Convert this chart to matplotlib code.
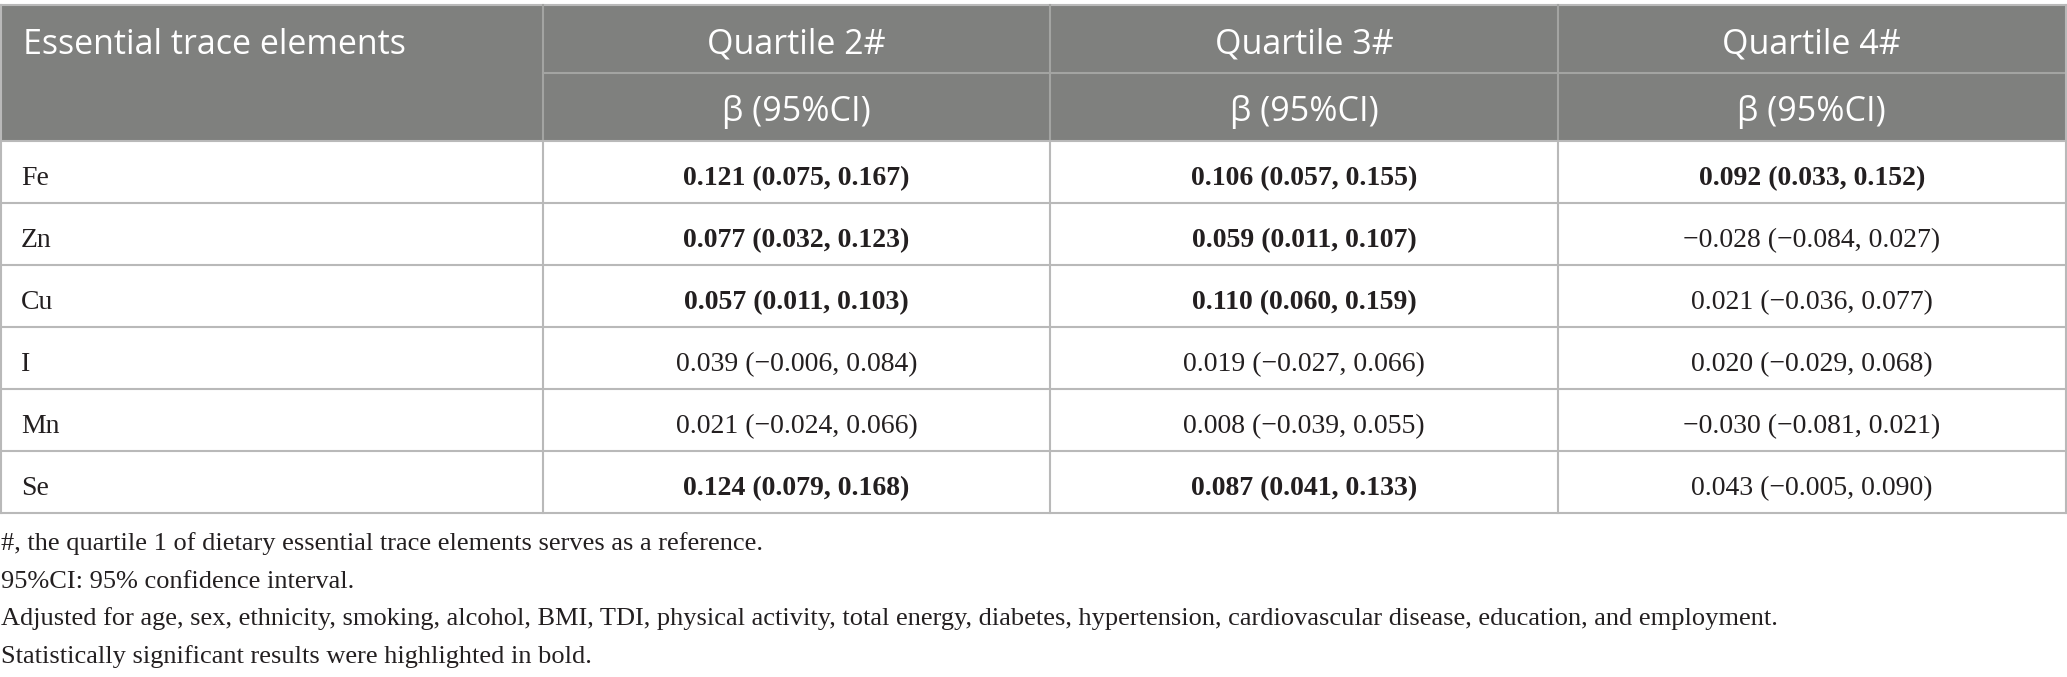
import matplotlib.pyplot as plt
from matplotlib.patches import Rectangle

# --------------------------------
# TABLE DATA: beta (95% CI) by quartile
# --------------------------------

elements = ["Fe", "Zn", "Cu", "I", "Mn", "Se"]
quartiles = ["Quartile 2#", "Quartile 3#", "Quartile 4#"]

q2_beta = [0.121, 0.077, 0.057, 0.039, 0.021, 0.124]
q2_low = [0.075, 0.032, 0.011, -0.006, -0.024, 0.079]
q2_high = [0.167, 0.123, 0.103, 0.084, 0.066, 0.168]
q2_sig = [True, True, True, False, False, True]

q3_beta = [0.106, 0.059, 0.110, 0.019, 0.008, 0.087]
q3_low = [0.057, 0.011, 0.060, -0.027, -0.039, 0.041]
q3_high = [0.155, 0.107, 0.159, 0.066, 0.055, 0.133]
q3_sig = [True, True, True, False, False, True]

q4_beta = [0.092, -0.028, 0.021, 0.020, -0.030, 0.043]
q4_low = [0.033, -0.084, -0.036, -0.029, -0.081, -0.005]
q4_high = [0.152, 0.027, 0.077, 0.068, 0.021, 0.090]
q4_sig = [True, False, False, False, False, False]

footnotes = [
    "#, the quartile 1 of dietary essential trace elements serves as a reference.",
    "95%CI: 95% confidence interval.",
    "Adjusted for age, sex, ethnicity, smoking, alcohol, BMI, TDI, physical activity, total energy, "
    "diabetes, hypertension, cardiovascular disease, education, and employment.",
    "Statistically significant results were highlighted in bold.",
]


def fmt(v):
    return f"{v:.3f}".replace("-", "\u2212")


columns = [
    (q2_beta, q2_low, q2_high, q2_sig),
    (q3_beta, q3_low, q3_high, q3_sig),
    (q4_beta, q4_low, q4_high, q4_sig),
]

# --------------------------------
# LAYOUT (pixel units)
# --------------------------------

W, H = 2067, 677
col_edges = [0.5, 543, 1050, 1558, 2065.5]
top = 4.5
sub_line = 73
head_bottom = 141
row_h = 62
table_bottom = head_bottom + row_h * len(elements)

header_bg = "#7f807e"
line_col = "#b9b9b9"
head_line = "#a3a4a2"
text_col = "#231f20"
serif = "Liberation Serif"
sans = "Open Sans"

fig = plt.figure(figsize=(W / 100, H / 100), dpi=100)
ax = fig.add_axes([0, 0, 1, 1])
ax.set_xlim(0, W)
ax.set_ylim(H, 0)
ax.axis("off")

# header background
ax.add_patch(Rectangle((col_edges[0], top), col_edges[-1] - col_edges[0],
                       head_bottom - top, facecolor=header_bg, edgecolor="none"))

# header lines
ax.plot([col_edges[0], col_edges[-1]], [top, top], color=line_col, lw=1.5)
ax.plot([col_edges[1], col_edges[-1]], [sub_line, sub_line], color=head_line, lw=1.5)
for x in col_edges[1:-1]:
    ax.plot([x, x], [top, head_bottom], color=head_line, lw=1.5)

# body grid
for i in range(len(elements) + 1):
    y = head_bottom + i * row_h
    ax.plot([col_edges[0], col_edges[-1]], [y, y], color=line_col, lw=1.5)
for x in col_edges:
    y0 = top if x in (col_edges[0], col_edges[-1]) else head_bottom
    ax.plot([x, x], [y0, table_bottom], color=line_col, lw=1.5)

# header text
hsize = 24.5
ax.text(23, top + 49, "Essential trace elements", color="white",
        fontsize=hsize, family=sans, ha="left", va="baseline")
for j, q in enumerate(quartiles):
    cx = (col_edges[j + 1] + col_edges[j + 2]) / 2
    ax.text(cx, top + 49, q, color="white", fontsize=hsize,
            family=sans, ha="center", va="baseline")
    ax.text(cx, sub_line + 48, "\u03b2 (95%CI)", color="white",
            fontsize=hsize, family=sans, ha="center", va="baseline")

# body text
for i, el in enumerate(elements):
    base = head_bottom + i * row_h + 44
    ax.text(21, base, el, fontsize=20, family=serif, ha="left", va="baseline",
            color=text_col)
    for j, (b, lo, hi, sig) in enumerate(columns):
        cx = (col_edges[j + 1] + col_edges[j + 2]) / 2
        txt = f"{fmt(b[i])} ({fmt(lo[i])}, {fmt(hi[i])})"
        ax.text(cx, base, txt, fontsize=20, family=serif, ha="center", va="baseline",
                color=text_col, fontweight="bold" if sig[i] else "normal")

# footnotes
for k, note in enumerate(footnotes):
    ax.text(1, 550 + k * 37.5, note, fontsize=19, family=serif, ha="left",
            va="baseline", color=text_col)

fig.savefig("out.png", dpi=100)
